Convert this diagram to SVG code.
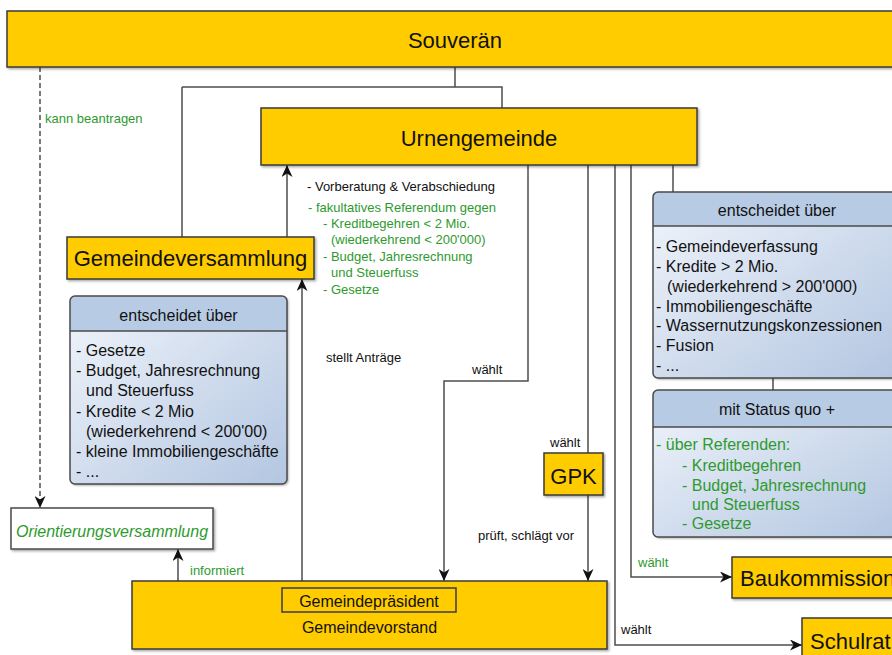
<svg xmlns="http://www.w3.org/2000/svg" width="892" height="655" viewBox="0 0 892 655">
<style>
text{font-family:"Liberation Sans",Arial,sans-serif;fill:#111}
.big{font-size:22px;text-anchor:middle}
.t16{font-size:16px}
.t13{font-size:13px}
.mid{text-anchor:middle}
.g{fill:#2e9a2e}
.yb{fill:#ffcc00;stroke:#3a3a3a;stroke-width:1.5}
.bx{fill:none;stroke:#4a4a4a;stroke-width:1.5}
.hd{fill:#b8cbe5}
.con path{fill:none;stroke:#4d4d4d;stroke-width:1.5}
</style>
<defs>
<marker id="ah" viewBox="0 0 12 11" refX="12" refY="5.5" markerWidth="12" markerHeight="11" markerUnits="userSpaceOnUse" orient="auto">
<path d="M0,0 L12,5.5 L0,11 L3.5,5.5 Z" fill="#111"/>
</marker>
<filter id="sh" x="-5%" y="-10%" width="110%" height="130%">
<feDropShadow dx="1.5" dy="1.5" stdDeviation="1" flood-color="#000" flood-opacity="0.35"/>
</filter>
<linearGradient id="bg" x1="0" y1="0" x2="1" y2="1">
<stop offset="0" stop-color="#f1f5fb"/>
<stop offset="1" stop-color="#b3c6e1"/>
</linearGradient>
</defs>

<g id="connectors" class="con">
<path d="M455,67 V87 M182,87 H502 V108 M182,87 V237"/>
<path d="M40,67 V508" stroke-dasharray="5,3" marker-end="url(#ah)"/>
<path d="M287,237 V165" marker-end="url(#ah)"/>
<path d="M302,581 V279" marker-end="url(#ah)"/>
<path d="M178,581 V549" marker-end="url(#ah)"/>
<path d="M528,165 V381 H444 V581" marker-end="url(#ah)"/>
<path d="M588,165 V453"/>
<path d="M588,495 V581" marker-end="url(#ah)"/>
<path d="M615,165 V645 H802" marker-end="url(#ah)"/>
<path d="M631,165 V577 H732" marker-end="url(#ah)"/>
<path d="M673,165 V192"/>
<path d="M773,378 V390"/>
<text class="t13 g" x="45" y="122.6">kann beantragen</text>
<text class="t13" x="326" y="361.6">stellt Anträge</text>
<text class="t13" x="472" y="373.6">wählt</text>
<text class="t13" x="550" y="446.6">wählt</text>
<text class="t13" x="478" y="539.6">prüft, schlägt vor</text>
<text class="t13 g" x="190" y="574.6">informiert</text>
<text class="t13 g" x="638" y="566.6">wählt</text>
<text class="t13" x="621" y="633.6">wählt</text>
<text class="t13" x="307" y="190.6">- Vorberatung &amp; Verabschiedung</text>
<text class="t13 g" x="308" y="211.6">- fakultatives Referendum gegen</text>
<text class="t13 g" x="323" y="227.6">- Kreditbegehren &lt; 2 Mio.</text>
<text class="t13 g" x="331" y="243.6">(wiederkehrend &lt; 200'000)</text>
<text class="t13 g" x="323" y="260.6">- Budget, Jahresrechnung</text>
<text class="t13 g" x="331" y="276.6">und Steuerfuss</text>
<text class="t13 g" x="323" y="293.6">- Gesetze</text>
</g>

<g id="souveraen">
<rect class="yb" x="7" y="11" width="900" height="56" filter="url(#sh)"/>
<text class="big" x="455" y="48">Souverän</text>
</g>

<g id="urnengemeinde">
<rect class="yb" x="261" y="108" width="436" height="57" filter="url(#sh)"/>
<text class="big" x="479" y="145.5">Urnengemeinde</text>
</g>

<g id="gemeindeversammlung">
<rect class="yb" x="67" y="237" width="247" height="42" filter="url(#sh)"/>
<text class="big" x="190.5" y="266">Gemeindeversammlung</text>
</g>

<g id="gv-entscheidet">
<rect x="70" y="296" width="217" height="188" rx="5" fill="url(#bg)" filter="url(#sh)"/>
<path class="hd" d="M75,296 H282 A5,5 0 0 1 287,301 V331 H70 V301 A5,5 0 0 1 75,296 Z"/>
<rect class="bx" x="70" y="296" width="217" height="188" rx="5"/>
<path d="M70,331 H287" stroke="#4a4a4a" stroke-width="1.5"/>
<text class="t16 mid" x="178.5" y="320.6">entscheidet über</text>
<text class="t16" x="76" y="356">- Gesetze</text>
<text class="t16" x="76" y="376">- Budget, Jahresrechnung</text>
<text class="t16" x="86" y="396">und Steuerfuss</text>
<text class="t16" x="76" y="416.5">- Kredite &lt; 2 Mio</text>
<text class="t16" x="86" y="437">(wiederkehrend &lt; 200'00)</text>
<text class="t16" x="76" y="457">- kleine Immobiliengeschäfte</text>
<text class="t16" x="76" y="477">- ...</text>
</g>

<g id="urne-entscheidet">
<rect x="653" y="192" width="248" height="186" rx="5" fill="url(#bg)" filter="url(#sh)"/>
<path class="hd" d="M658,192 H896 A5,5 0 0 1 901,197 V226 H653 V197 A5,5 0 0 1 658,192 Z"/>
<rect class="bx" x="653" y="192" width="248" height="186" rx="5"/>
<path d="M653,226 H901" stroke="#4a4a4a" stroke-width="1.5"/>
<text class="t16 mid" x="777" y="215.6">entscheidet über</text>
<text class="t16" x="656" y="252">- Gemeindeverfassung</text>
<text class="t16" x="656" y="272">- Kredite &gt; 2 Mio.</text>
<text class="t16" x="667" y="292">(wiederkehrend &gt; 200'000)</text>
<text class="t16" x="656" y="311.5">- Immobiliengeschäfte</text>
<text class="t16" x="656" y="331">- Wassernutzungskonzessionen</text>
<text class="t16" x="656" y="351">- Fusion</text>
<text class="t16" x="656" y="371">- ...</text>
</g>

<g id="status-quo">
<rect x="653" y="390" width="248" height="147" rx="5" fill="url(#bg)" filter="url(#sh)"/>
<path class="hd" d="M658,390 H896 A5,5 0 0 1 901,395 V427 H653 V395 A5,5 0 0 1 658,390 Z"/>
<rect class="bx" x="653" y="390" width="248" height="147" rx="5"/>
<path d="M653,427 H901" stroke="#4a4a4a" stroke-width="1.5"/>
<text class="t16 mid" x="777" y="414.6">mit Status quo +</text>
<text class="t16 g" x="656" y="449.6">- über Referenden:</text>
<text class="t16 g" x="682" y="470.6">- Kreditbegehren</text>
<text class="t16 g" x="682" y="490.6">- Budget, Jahresrechnung</text>
<text class="t16 g" x="692" y="509.6">und Steuerfuss</text>
<text class="t16 g" x="682" y="528.6">- Gesetze</text>
</g>

<g id="gpk">
<rect class="yb" x="544" y="453" width="59" height="42" filter="url(#sh)"/>
<text class="big" x="573.5" y="484">GPK</text>
</g>

<g id="orientierungsversammlung">
<rect x="11" y="508" width="202" height="41" fill="#fff" stroke="#4a4a4a" stroke-width="1.5" filter="url(#sh)"/>
<text class="t16 mid g" x="112" y="537" font-style="italic">Orientierungsversammlung</text>
</g>

<g id="gemeindevorstand">
<rect class="yb" x="132" y="581" width="475" height="68" filter="url(#sh)"/>
<rect x="282" y="588" width="174" height="24" fill="none" stroke="#3a3a3a" stroke-width="1.5"/>
<text class="t16 mid" x="369" y="606.5">Gemeindepräsident</text>
<text class="t16 mid" x="369.5" y="632.5">Gemeindevorstand</text>
</g>

<g id="baukommission">
<rect class="yb" x="732" y="557" width="180" height="41" filter="url(#sh)"/>
<text x="740" y="586" font-size="22">Baukommission</text>
</g>

<g id="schulrat">
<rect class="yb" x="802" y="618" width="110" height="50" filter="url(#sh)"/>
<text x="810" y="649" font-size="22">Schulrat</text>
</g>
</svg>
